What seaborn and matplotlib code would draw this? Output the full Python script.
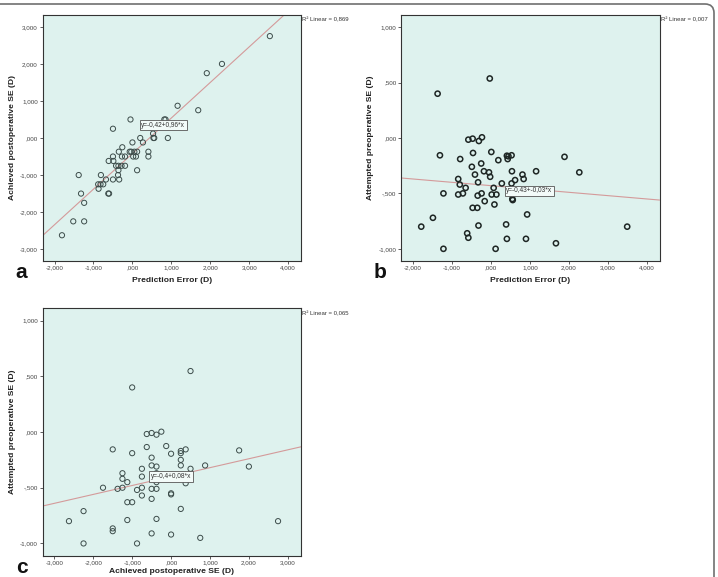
import numpy as np
import pandas as pd
import matplotlib
matplotlib.use("Agg")
import matplotlib.pyplot as plt
from matplotlib.patches import FancyBboxPatch
from matplotlib.transforms import IdentityTransform
from matplotlib.ticker import FuncFormatter
import seaborn as sns

# panel a: prediction error vs achieved postoperative SE
pe_a = [-1.81, -1.52, -1.24, -1.24, -1.32, -1.38, -0.81, -0.88, -0.87, -0.82,
        -0.75, -0.68, -0.62, -0.60, -0.61, -0.50, -0.50, -0.49, -0.50, -0.42,
        -0.36, -0.35, -0.36, -0.37, -0.34, -0.27, -0.26, -0.28, -0.19, -0.19,
        -0.05, -0.07, -0.03, 0.00, 0.02, 0.05, 0.09, 0.12, 0.12, 0.20,
        0.27, 0.41, 0.41, 0.53, 0.54, 0.56, 0.82, 0.85, 0.91, 1.16,
        1.69, 1.91, 2.30, 3.53]
ach_a = [-2.625, -2.25, -2.25, -1.75, -1.5, -1.0, -1.0, -1.25, -1.37, -1.25,
         -1.25, -1.12, -1.5, -1.5, -0.62, 0.25, -0.5, -0.62, -1.12, -0.75,
         -0.75, -0.37, -0.87, -1.0, -1.12, -0.5, -0.25, -0.75, -0.5, -0.75,
         0.5, -0.37, -0.37, -0.12, -0.5, -0.37, -0.5, -0.37, -0.87, 0.0,
         -0.12, -0.37, -0.5, 0.12, 0.0, 0.0, 0.5, 0.5, 0.0, 0.87,
         0.75, 1.75, 2.0, 2.75]

# panel b: prediction error vs attempted preoperative SE
pe_b = [-1.79, -1.49, -1.37, -1.31, -1.22, -1.22, -0.84, -0.80, -0.79, -0.84,
        -0.72, -0.65, -0.61, -0.58, -0.58, -0.47, -0.49, -0.46, -0.47, -0.41,
        -0.35, -0.33, -0.34, -0.32, -0.31, -0.25, -0.23, -0.24, -0.18, -0.16,
        -0.05, -0.02, -0.03, 0.01, 0.02, 0.07, 0.09, 0.14, 0.12, 0.19,
        0.28, 0.41, 0.43, 0.45, 0.39, 0.41, 0.53, 0.54, 0.53, 0.55,
        0.56, 0.62, 0.81, 0.84, 0.90, 0.93, 1.16, 1.67, 1.89, 2.27, 3.50]
att_b = [-0.80, -0.72, 0.40, -0.156, -0.50, -1.0, -0.37, -0.42, -0.19, -0.51,
         -0.50, -0.45, -0.86, -0.90, -0.015, -0.006, -0.26, -0.135, -0.63, -0.33,
         -0.63, -0.40, -0.52, -0.79, -0.027, -0.23, 0.006, -0.50, -0.30, -0.57,
         -0.31, -0.35, 0.537, -0.126, -0.51, -0.45, -0.60, -0.51, -1.0, -0.20,
         -0.41, -0.16, -0.19, -0.165, -0.78, -0.91, -0.156, -0.30, -0.41, -0.55,
         -0.56, -0.38, -0.33, -0.37, -0.91, -0.69, -0.30, -0.95, -0.17, -0.31, -0.80]

# panel c: achieved postoperative SE vs attempted preoperative SE
ach_c = [-2.625, -2.25, -2.25, -1.75, -1.5, -1.5, -1.5, -1.375, -1.25, -1.25,
         -1.25, -1.125, -1.125, -1.125, -1.0, -1.0, -1.0, -0.875, -0.875, -0.75,
         -0.75, -0.75, -0.75, -0.625, -0.625, -0.5, -0.5, -0.5, -0.5, -0.5,
         -0.5, -0.375, -0.375, -0.375, -0.375, -0.375, -0.375, -0.25, -0.125, 0.0,
         0.0, 0.0, 0.0, 0.25, 0.25, 0.25, 0.25, 0.25, 0.375, 0.375,
         0.5, 0.5, 0.75, 0.875, 1.75, 2.0, 2.75]
att_c = [-0.80, -0.71, -1.0, -0.50, -0.156, -0.865, -0.89, -0.51, -0.37, -0.42,
         -0.50, -0.45, -0.63, -0.79, -0.63, -0.19, 0.40, -0.52, -1.0, -0.33,
         -0.40, -0.50, -0.57, -0.135, -0.018, -0.009, -0.23, -0.30, -0.51, -0.60,
         -0.91, -0.024, -0.31, -0.37, -0.45, -0.51, -0.78, 0.003, -0.126, -0.195,
         -0.55, -0.56, -0.92, -0.17, -0.19, -0.25, -0.30, -0.69, -0.156, -0.46,
         0.547, -0.33, -0.95, -0.30, -0.165, -0.31, -0.80]

# fit lines and labels as printed on the chart
fit_intercept = [-0.42, -0.43, -0.40]
fit_slope = [0.96, -0.03, 0.08]
fit_text = ["y=-0,42+0,96*x", "y=-0,43+-0,03*x", "y=-0,4+0,08*x"]
fit_text_pos = [(0.79, 0.35), (0.99, -0.477), (0.0, -0.40)]
r2_text = ["R² Linear = 0,869", "R² Linear = 0,007", "R² Linear = 0,065"]
panel_letters = ["a", "b", "c"]

sns.set_style("ticks")
plt.rcParams["font.family"] = ["Liberation Sans", "DejaVu Sans"]

BG = "#def2ee"
W, H = 718, 577
fig = plt.figure(figsize=(W / 100, H / 100), dpi=100)

rects = [(42.5, 15, 301, 261), (401, 15, 659.5, 261), (42.7, 308.3, 301, 555.7)]
panels = [
    (pe_a, ach_a, "Prediction Error (D)", "Achieved postoperative SE (D)",
     (-2.31, 4.33), (-3.32, 3.32), np.arange(-2, 5), np.arange(-3, 4)),
    (pe_b, att_b, "Prediction Error (D)", "Attempted preoperative SE (D)",
     (-2.31, 4.33), (-1.11, 1.11), np.arange(-2, 5), np.arange(-1, 1.01, 0.5)),
    (ach_c, att_c, "Achieved postoperative SE (D)", "Attempted preoperative SE (D)",
     (-3.30, 3.34), (-1.11, 1.11), np.arange(-3, 4), np.arange(-1, 1.01, 0.5)),
]
edge_cols = ["#3c4c4a", "#1e2624", "#3c4c4a"]
edge_lws = [0.7, 1.1, 0.7]
xlabel_pads = [4.5, 4.5, 1.5]


def spss_fmt(v, pos=None):
    s = f"{v:.3f}".replace(".", ",")
    if s.startswith("0,"):
        s = s[1:]
    elif s.startswith("-0,"):
        s = "-" + s[2:]
    return s


for i, (x, y, xl, yl, xlim, ylim, xt, yt) in enumerate(panels):
    l, t, r, b = rects[i]
    ax = fig.add_axes([l / W, 1 - b / H, (r - l) / W, (b - t) / H])
    ax.set_facecolor(BG)
    df = pd.DataFrame({"x": x, "y": y})
    sns.scatterplot(data=df, x="x", y="y", ax=ax, s=14, facecolor="none",
                    edgecolor=edge_cols[i], linewidth=edge_lws[i], zorder=3)
    ax.axline((0, fit_intercept[i]), slope=fit_slope[i], color="#d49a9a", lw=0.8, zorder=2)
    ax.set_xlim(*xlim)
    ax.set_ylim(*ylim)
    ax.set_xticks(xt)
    ax.set_yticks(yt)
    ax.xaxis.set_major_formatter(FuncFormatter(spss_fmt))
    ax.yaxis.set_major_formatter(FuncFormatter(spss_fmt))
    ax.tick_params(labelsize=4.5, length=2.2, width=0.6, pad=1.2, colors="#444444")
    for sp in ax.spines.values():
        sp.set_visible(True)
        sp.set_linewidth(0.8)
        sp.set_color("#333333")
    ax.set_xlabel(xl, fontsize=6.1, fontweight="bold", labelpad=xlabel_pads[i], color="#222222")
    ax.set_ylabel(yl, fontsize=6.1, fontweight="bold", labelpad=3, color="#222222")
    tx, ty = fit_text_pos[i]
    ax.text(tx, ty, fit_text[i], fontsize=4.7, ha="center", va="center", color="#333333",
            bbox=dict(boxstyle="square,pad=0.25", fc="#f3fbf9", ec="#555555", lw=0.6), zorder=4)
    ax.text(1.005, 0.98, r2_text[i], transform=ax.transAxes, fontsize=4.3,
            ha="left", va="center", color="#333333")
    fig.text((l - 27) / W, 1 - (b + 17) / H, panel_letters[i], fontsize=15,
             fontweight="bold", ha="left", va="baseline", color="#111111")

# outer rounded frame, clipped on the left and bottom edges
frame = FancyBboxPatch((-10, -10), 725 - 1, 584 - 1,
                       boxstyle="round,pad=0,rounding_size=9",
                       transform=IdentityTransform(), fc="none", ec="#707070", lw=1.2)
fig.patches.append(frame)

fig.savefig("out.png", dpi=100)
